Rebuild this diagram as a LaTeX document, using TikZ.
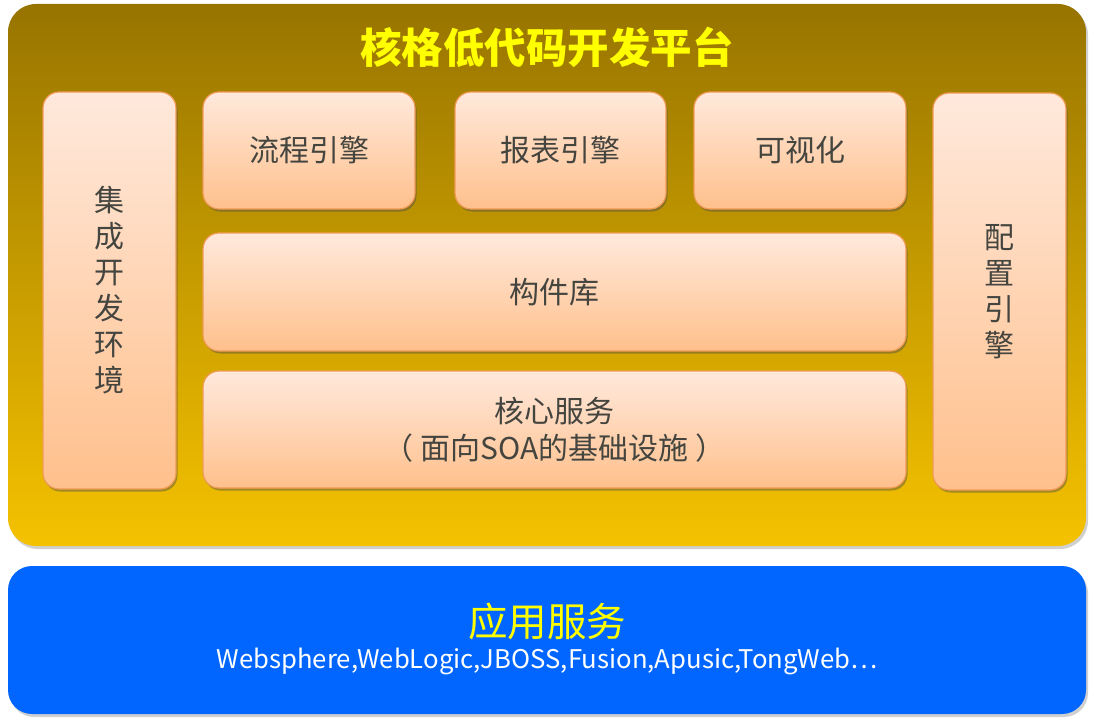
\documentclass[tikz,border=0pt]{standalone}
\usepackage{fontspec}
\setmainfont{Noto Sans CJK SC}
\newfontfamily\cjk{Noto Sans CJK SC}
\usetikzlibrary{shadows}
\definecolor{goldtop}{HTML}{977400}
\definecolor{goldbot}{HTML}{F5C200}
\definecolor{peachtop}{HTML}{FFE9DC}
\definecolor{peachbot}{HTML}{FFC08C}
\definecolor{peachline}{HTML}{F09A55}
\definecolor{txtgray}{HTML}{454540}
\definecolor{blueback}{HTML}{0066FF}
\definecolor{titleyellow}{HTML}{FFFF00}
\begin{document}
\begin{tikzpicture}[x=1pt,y=-1pt,
  panel/.style={rounded corners=16pt, draw=peachline, line width=1.2pt,
    top color=peachtop, bottom color=peachbot, inner sep=0pt,
    drop shadow={shadow xshift=1.5pt, shadow yshift=-2.5pt, opacity=0.45, fill=black!70},
    text=txtgray, font=\cjk\fontsize{30}{36}\selectfont, align=center},
  ]
\useasboundingbox (0,0) rectangle (1094,725);
\fill[white] (0,0) rectangle (1094,725);
% outer gold panel
\node[draw=none, rounded corners=28pt, top color=goldtop, bottom color=goldbot,
  minimum width=1078pt, minimum height=542pt, inner sep=0pt,
  drop shadow={shadow xshift=2pt, shadow yshift=-3pt, opacity=0.3, fill=black!60}]
  (gold) at (547,275) {};
% blue panel
\node[draw=none, rounded corners=24pt, fill=blueback,
  minimum width=1078pt, minimum height=148pt, inner sep=0pt,
  drop shadow={shadow xshift=2pt, shadow yshift=-3pt, opacity=0.3, fill=black!60}]
  (blue) at (547,640) {};
% title
\node[text=titleyellow, font=\cjk\bfseries\fontsize{41.5}{44}\selectfont] (title) at (547,47) {核格低代码开发平台};
% boxes
\node[panel, minimum width=133pt, minimum height=397pt] (ide) at (109.5,290.5) {集\\成\\开\\发\\环\\境};
\node[panel, minimum width=133pt, minimum height=397pt] (cfg) at (999.5,291.5) {配\\置\\引\\擎};
\node[panel, minimum width=212pt, minimum height=117pt] (flow) at (309,150.5) {流程引擎};
\node[panel, minimum width=211pt, minimum height=117pt] (report) at (560.5,150.5) {报表引擎};
\node[panel, minimum width=212pt, minimum height=117pt] (vis) at (800,150.5) {可视化};
\node[panel, minimum width=703pt, minimum height=118pt] (lib) at (554.5,292) {构件库};
\node[panel, minimum width=703pt, minimum height=117pt, font=\cjk\fontsize{30}{37}\selectfont] (core) at (554.5,429.5) {核心服务\\（\hspace{7pt}面向SOA的基础设施\hspace{7pt}）};
% bottom text
\node[text=titleyellow, font=\cjk\fontsize{39.5}{44}\selectfont] (app) at (547,621) {应用服务};
\node[text=white, font=\cjk\fontsize{25.7}{30}\selectfont] (servers) at (547,661) {Websphere,WebLogic,JBOSS,Fusion,Apusic,TongWeb…};
\end{tikzpicture}
\end{document}
